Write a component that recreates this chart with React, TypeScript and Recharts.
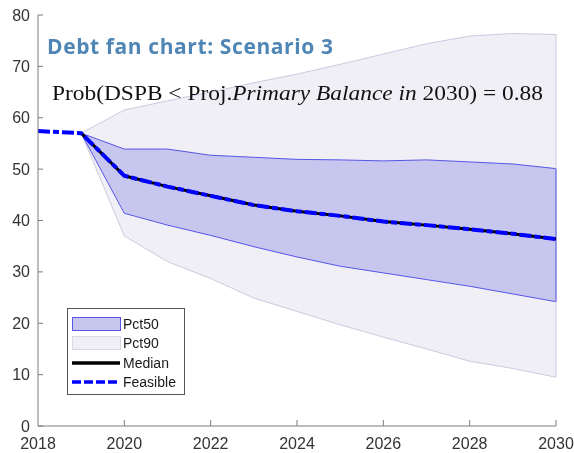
import React from "react";
import {
  Area,
  ComposedChart,
  Legend,
  Line,
  ReferenceLine,
  XAxis,
  YAxis,
} from "recharts";

const years = [2018, 2019, 2020, 2021, 2022, 2023, 2024, 2025, 2026, 2027, 2028, 2029, 2030];
const median = [null, 57.0, 48.7, 46.6, 44.8, 43.0, 41.8, 40.9, 39.8, 39.1, 38.3, 37.4, 36.4];
const feasible = [57.4, 57.0, 48.7, 46.6, 44.8, 43.0, 41.8, 40.9, 39.8, 39.1, 38.3, 37.4, 36.4];
const pct25 = [null, 57.0, 41.4, 39.1, 37.1, 34.9, 32.9, 31.1, 29.8, 28.5, 27.2, 25.7, 24.2];
const pct75 = [null, 57.0, 53.9, 53.9, 52.7, 52.3, 51.9, 51.8, 51.6, 51.8, 51.4, 51.0, 50.1];
const pct5 = [null, 57.0, 37.0, 32.0, 28.7, 24.9, 22.3, 19.7, 17.3, 15.0, 12.6, 11.2, 9.5];
const pct95 = [null, 57.0, 61.5, 63.3, 65.0, 66.8, 68.5, 70.4, 72.4, 74.4, 75.9, 76.4, 76.2];

const xTicks = [2018, 2020, 2022, 2024, 2026, 2028, 2030];
const yTicks = [0, 10, 20, 30, 40, 50, 60, 70, 80];

const data = years.map((year, i) => ({
  year,
  median: median[i],
  feasible: feasible[i],
  band50: pct25[i] == null ? null : [pct25[i], pct75[i]],
  band90: pct5[i] == null ? null : [pct5[i], pct95[i]],
}));

const last = years.length - 1;

const AXIS = "#7d7d7d";
const LABEL = "#333333";
const BLUE_FILL = "#c6c6ef";
const BLUE_EDGE = "#5656e8";
const GRAY_FILL = "#f0eff5";
const GRAY_EDGE = "#cacae0";

const XTick = (props: any) => {
  const { x, y, payload } = props;
  return (
    <g>
      {payload.value !== 2018 && (
        <line x1={x} x2={x} y1={y - 12} y2={y - 18} stroke={AXIS} />
      )}
      <text x={x} y={y} dy="0.71em" textAnchor="middle" fontSize={16} fill={LABEL}
        fontFamily="'Liberation Sans', Arial, sans-serif">
        {payload.value}
      </text>
    </g>
  );
};

const YTick = (props: any) => {
  const { x, y, payload } = props;
  return (
    <g>
      <line x1={x + 8} x2={x + 13} y1={y} y2={y} stroke={AXIS} />
      <text x={x} y={y} dy="0.35em" textAnchor="end" fontSize={16} fill={LABEL}
        fontFamily="'Liberation Sans', Arial, sans-serif">
        {payload.value}
      </text>
    </g>
  );
};

const legendItems = [
  { name: "Pct50", kind: "patch", fill: BLUE_FILL, stroke: BLUE_EDGE },
  { name: "Pct90", kind: "patch", fill: GRAY_FILL, stroke: "#d8d8e6" },
  { name: "Median", kind: "line", stroke: "#000000", dash: undefined },
  { name: "Feasible", kind: "line", stroke: "#0000ff", dash: "9 3" },
];

const LegendBox = () => (
  <div
    style={{
      border: "1px solid #555",
      background: "#fff",
      width: 112,
      padding: "5px 0 2px 4px",
      fontFamily: "'Liberation Sans', Arial, sans-serif",
      fontSize: 14,
      color: "#1a1a1a",
    }}
  >
    {legendItems.map((item) => (
      <div key={item.name} style={{ display: "flex", alignItems: "center", height: 19.5 }}>
        <svg width={50} height={16} style={{ marginRight: 1 }}>
          {item.kind === "patch" ? (
            <rect x={0.5} y={1.5} width={48} height={13} fill={item.fill} stroke={item.stroke} />
          ) : (
            <line x1={0} x2={48} y1={8} y2={8} stroke={item.stroke} strokeWidth={3.5}
              strokeDasharray={item.dash} />
          )}
        </svg>
        <span>{item.name}</span>
      </div>
    ))}
  </div>
);

export default function App() {
  return (
    <div style={{ position: "fixed", left: 8, top: 8, width: 566, height: 445 }}>
      <ComposedChart
        width={566}
        height={445}
        data={data}
        margin={{ top: 7, right: 18, bottom: 0, left: 0 }}
      >
        <XAxis
          dataKey="year"
          type="number"
          domain={[2018, 2030]}
          ticks={xTicks}
          tick={<XTick />}
          tickLine={false}
          tickSize={0}
          tickMargin={12}
          height={27}
          stroke={AXIS}
          allowDataOverflow
        />
        <YAxis
          type="number"
          domain={[0, 80]}
          ticks={yTicks}
          tick={<YTick />}
          tickLine={false}
          tickSize={0}
          tickMargin={8}
          width={30}
          stroke={AXIS}
          interval={0}
        />
        <Area
          dataKey="band90"
          type="linear"
          fill={GRAY_FILL}
          fillOpacity={1}
          stroke={GRAY_EDGE}
          strokeWidth={1}
          isAnimationActive={false}
          activeDot={false}
          dot={false}
        />
        <ReferenceLine
          segment={[
            { x: years[last], y: pct5[last] as number },
            { x: years[last], y: pct95[last] as number },
          ]}
          stroke={GRAY_EDGE}
        />
        <Area
          dataKey="band50"
          type="linear"
          fill={BLUE_FILL}
          fillOpacity={1}
          stroke={BLUE_EDGE}
          strokeWidth={1}
          isAnimationActive={false}
          activeDot={false}
          dot={false}
        />
        <ReferenceLine
          segment={[
            { x: years[last], y: pct25[last] as number },
            { x: years[last], y: pct75[last] as number },
          ]}
          stroke={BLUE_EDGE}
        />
        <Line
          dataKey="median"
          type="linear"
          stroke="#000000"
          strokeWidth={3}
          dot={false}
          activeDot={false}
          isAnimationActive={false}
        />
        <Line
          dataKey="feasible"
          type="linear"
          stroke="#0000ff"
          strokeWidth={4}
          strokeDasharray="12 3 6 3"
          dot={false}
          activeDot={false}
          isAnimationActive={false}
        />
        <Legend
          layout="vertical"
          align="center"
          verticalAlign="middle"
          wrapperStyle={{ left: 59, top: 300, width: 120 }}
          content={() => <LegendBox />}
        />
      </ComposedChart>
      <div
        style={{
          position: "absolute",
          left: 39,
          top: 24,
          fontFamily: "'Open Sans', sans-serif",
          fontWeight: 700,
          fontSize: 21,
          letterSpacing: 0.6,
          color: "#4f86b5",
          whiteSpace: "nowrap",
          pointerEvents: "none",
        }}
      >
        Debt fan chart: Scenario 3
      </div>
      <svg
        width={566}
        height={120}
        style={{ position: "absolute", left: 0, top: 0, pointerEvents: "none" }}
      >
        <text
          x={44}
          y={92}
          fontSize={20}
          fill="#111"
          fontFamily="'Liberation Serif', 'DejaVu Serif', serif"
          textLength={491}
          lengthAdjust="spacingAndGlyphs"
        >
          <tspan>Prob(DSPB &lt; Proj.</tspan>
          <tspan fontStyle="italic">Primary Balance in </tspan>
          <tspan>2030) = 0.88</tspan>
        </text>
      </svg>
    </div>
  );
}
